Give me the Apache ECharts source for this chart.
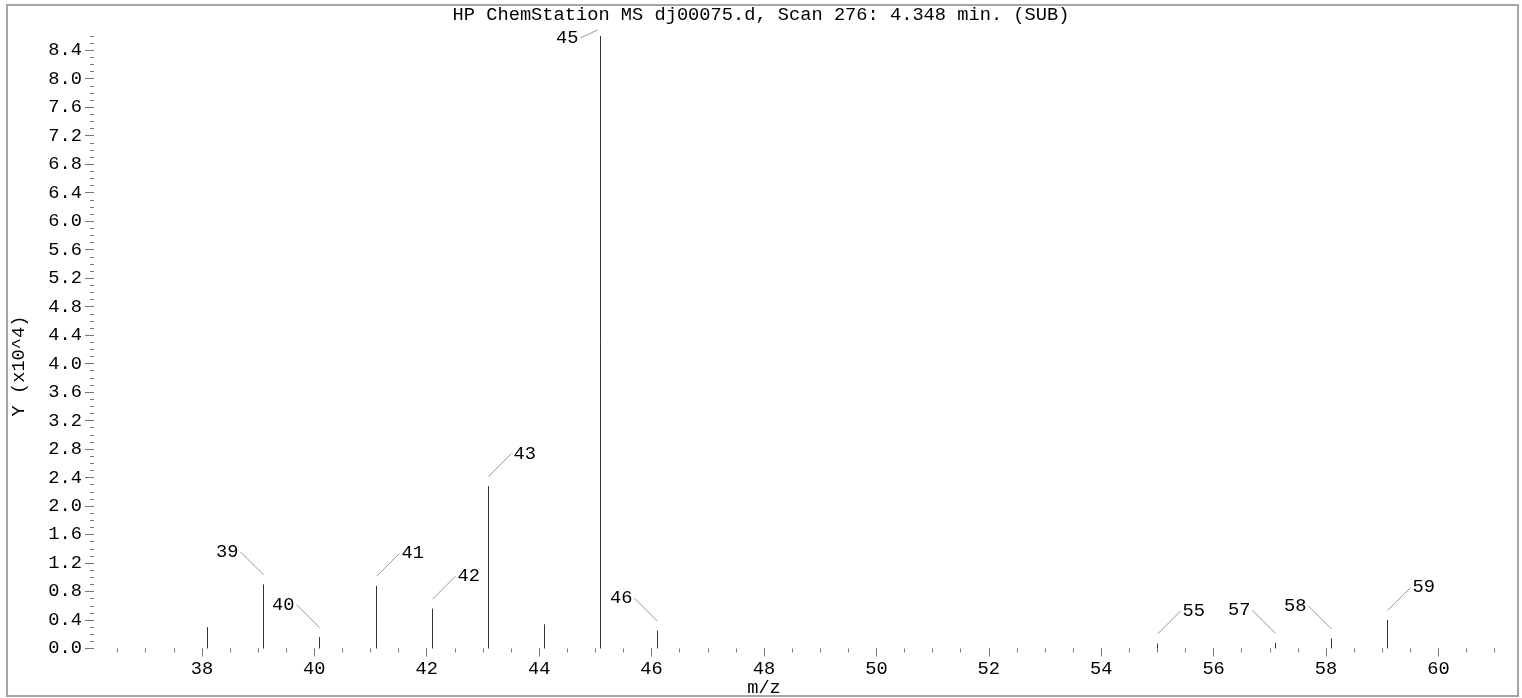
<!DOCTYPE html>
<html>
<head>
<meta charset="utf-8">
<script src="https://cdn.jsdelivr.net/npm/echarts@6/dist/echarts.min.js"></script>
<style>
html,body{margin:0;padding:0;background:#fff;}
#chart{width:1522px;height:698px;}
</style>
</head>
<body>
<div id="chart"></div>
<script>
// ---- chart content ----
const titleText = 'HP ChemStation MS dj00075.d, Scan 276: 4.348 min. (SUB)';
const xAxisName = 'm/z';
const yAxisName = 'Y (x10^4)';

// peaks: m/z and abundance (x10^4)
const peakMz        = [38.1, 39.1, 40.1, 41.1, 42.1, 43.1, 44.1, 45.1, 46.1, 55.0, 57.1, 58.1, 59.1];
const peakIntensity = [0.30, 0.90, 0.16, 0.88, 0.56, 2.28, 0.34, 8.60, 0.25, 0.07, 0.08, 0.14, 0.40];
const peakLabel     = ['', '39', '40', '41', '42', '43', '', '45', '46', '55', '57', '58', '59'];

// tick labels
const xTickLabels = [38, 40, 42, 44, 46, 48, 50, 52, 54, 56, 58, 60];
const yTickLabels = [0.0, 0.4, 0.8, 1.2, 1.6, 2.0, 2.4, 2.8, 3.2, 3.6, 4.0, 4.4, 4.8, 5.2, 5.6, 6.0, 6.4, 6.8, 7.2, 7.6, 8.0, 8.4];

// ---- layout / style (not data) ----
const labelPlacement = ['', 'L', 'L', 'R', 'R', 'R', '', 'T', 'L', 'R', 'L', 'L', 'R'];
const X_MIN = 36.08, X_MAX = 61.3, Y_MIN = 0, Y_MAX = 8.6;
const FONT = '"Liberation Mono", "DejaVu Sans Mono", monospace';
const FS = 18.7;

const xMinorTicks = [];
for (let k = 73; k <= 122; k++) xMinorTicks.push(k / 2);
const yMinorTicks = [];
for (let k = 0; k <= 86; k++) yMinorTicks.push(k / 10);

const chart = echarts.init(document.getElementById('chart'), null, {renderer: 'canvas'});

function crisp(v) { return Math.round(v - 0.5) + 0.5; }

const option = {
  animation: false,
  backgroundColor: '#fff',
  title: {
    text: titleText,
    left: 'center',
    top: 1,
    textStyle: {fontFamily: FONT, fontSize: FS, fontWeight: 'normal', color: '#000'}
  },
  grid: {left: 94, right: 10.5, top: 36, bottom: 49.5, containLabel: false},
  xAxis: [
    {
      type: 'value', min: X_MIN, max: X_MAX, position: 'bottom',
      axisLine: {show: false},
      splitLine: {show: false},
      axisTick: {show: true, length: 8, customValues: xTickLabels, lineStyle: {color: '#777', width: 1}},
      axisLabel: {show: true, customValues: xTickLabels, margin: 11, fontFamily: FONT, fontSize: FS, color: '#000',
                  formatter: v => String(Math.round(v))}
    },
    {
      type: 'value', min: X_MIN, max: X_MAX, position: 'bottom',
      axisLine: {show: false},
      splitLine: {show: false},
      axisTick: {show: true, length: 4, customValues: xMinorTicks, lineStyle: {color: '#777', width: 1}},
      axisLabel: {show: false}
    }
  ],
  yAxis: [
    {
      type: 'value', min: Y_MIN, max: Y_MAX, position: 'left',
      axisLine: {show: false},
      splitLine: {show: false},
      axisTick: {show: true, length: 9, customValues: yTickLabels, lineStyle: {color: '#777', width: 1}},
      axisLabel: {show: true, customValues: yTickLabels, margin: 12, fontFamily: FONT, fontSize: FS, color: '#000',
                  formatter: v => Number(v).toFixed(1)}
    },
    {
      type: 'value', min: Y_MIN, max: Y_MAX, position: 'left',
      axisLine: {show: false},
      splitLine: {show: false},
      axisTick: {show: true, length: 4, customValues: yMinorTicks, lineStyle: {color: '#777', width: 1}},
      axisLabel: {show: false}
    }
  ],
  graphic: [
    {
      type: 'rect', silent: true, z: -1,
      shape: {x: 7, y: 5, width: 1511, height: 691},
      style: {fill: 'none', stroke: '#a6a6a6', lineWidth: 2}
    },
    {
      type: 'text', x: 19, y: 366, rotation: Math.PI / 2,
      style: {text: yAxisName, fontFamily: FONT, fontSize: FS, fill: '#000', align: 'center', verticalAlign: 'middle'}
    },
    {
      type: 'text', x: 764, y: 688,
      style: {text: xAxisName, fontFamily: FONT, fontSize: FS, fill: '#000', align: 'center', verticalAlign: 'middle'}
    }
  ],
  series: [{
    type: 'custom',
    xAxisIndex: 0,
    yAxisIndex: 0,
    clip: false,
    data: peakMz.map((m, i) => [m, peakIntensity[i], i]),
    renderItem: function (params, api) {
      const i = api.value(2);
      const base = api.coord([api.value(0), 0]);
      const top = api.coord([api.value(0), api.value(1)]);
      const px = crisp(base[0]);
      const children = [{
        type: 'line',
        shape: {x1: px, y1: base[1], x2: px, y2: top[1]},
        style: {stroke: '#333', lineWidth: 1}
      }];
      const lab = peakLabel[i];
      const pl = labelPlacement[i];
      if (lab) {
        let sx, sy, ex, ey, tx, ty, align;
        if (pl === 'L' || pl === 'R') {
          const dir = pl === 'L' ? -1 : 1;
          sx = px; sy = top[1] - 9.5;
          ex = px + dir * 23; ey = sy - 23;
          tx = ex + dir * 2; ty = ey; align = pl === 'L' ? 'right' : 'left';
        } else {
          ex = px - 3; ey = top[1] - 6;
          sx = px - 20; sy = top[1] + 2;
          tx = sx - 2; ty = sy; align = 'right';
        }
        children.push({type: 'line', shape: {x1: sx, y1: sy, x2: ex, y2: ey}, style: {stroke: '#999', lineWidth: 1}});
        children.push({
          type: 'text', x: tx, y: ty,
          style: {text: lab, fontFamily: FONT, fontSize: FS, fill: '#000', align: align, verticalAlign: 'middle'}
        });
      }
      return {type: 'group', children: children};
    }
  }]
};

chart.setOption(option);
</script>
</body>
</html>
